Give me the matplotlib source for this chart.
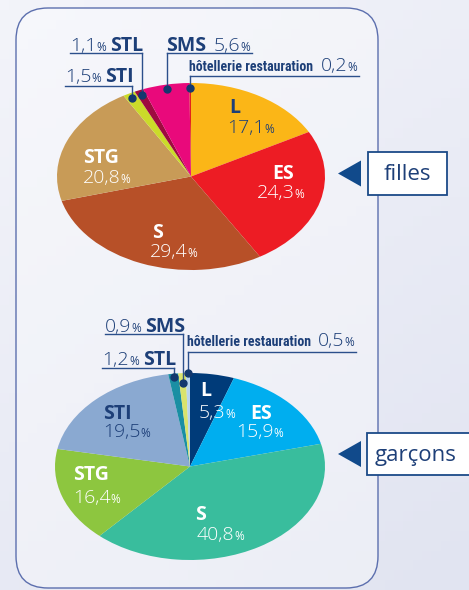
import matplotlib
matplotlib.use("Agg")

import matplotlib.pyplot as plt
import numpy as np
from matplotlib import font_manager
from matplotlib.colors import LinearSegmentedColormap
from matplotlib.patches import FancyBboxPatch, Rectangle, Polygon

plt.rcParams["font.family"] = ["Open Sans", "DejaVu Sans"]

# --- données ---
categories = ["L", "ES", "S", "STG", "STI", "STL", "SMS", "hôtellerie restauration"]
filles = [17.1, 24.3, 29.4, 20.8, 1.5, 1.1, 5.6, 0.2]
garcons = [5.3, 15.9, 40.8, 16.4, 19.5, 1.2, 0.9, 0.5]

colors_filles = ["#fbb617", "#ed1c24", "#b75028", "#c89b57", "#cbdb2a", "#9e0b3f", "#e9097b", "#e2231a"]
colors_garcons = ["#003b79", "#00aeef", "#39bd9d", "#8dc63f", "#8aa9d1", "#1a8fa3", "#d9e36c", "#b9d5ee"]

NAVY = "#1d3f78"
LINE = "#2b4f8b"

names = {f.name for f in font_manager.fontManager.ttflist}
NARROW = next((n for n in ["Roboto Condensed", "Liberation Sans Narrow", "Open Sans Condensed"]
               if n in names), "Roboto")

W, H = 469, 590
fig = plt.figure(figsize=(W / 100, H / 100), dpi=100)


def pixel_axes(z):
    a = fig.add_axes([0, 0, 1, 1], zorder=z)
    a.set_xlim(0, W)
    a.set_ylim(H, 0)
    a.axis("off")
    a.patch.set_alpha(0)
    return a


# fond (dessous) et calque des textes (dessus)
bg = pixel_axes(0)
ax = pixel_axes(5)

cmap = LinearSegmentedColormap.from_list("bg", ["#f3f4fa", "#e1e4f1"])
yy, xx = np.mgrid[0:1:60j, 0:1:50j]
bg.imshow(0.65 * yy + 0.35 * xx, cmap=cmap, extent=(0, W, H, 0), aspect="auto", zorder=0)
bg.add_patch(FancyBboxPatch((16, 8), 362, 580, boxstyle="round,pad=0,rounding_size=32",
                            fc="white", alpha=0.35, ec="none", zorder=1))
bg.add_patch(FancyBboxPatch((16, 8), 362, 580, boxstyle="round,pad=0,rounding_size=32",
                            fc="none", ec="#5c6fae", lw=1.0, zorder=2))

renderer = fig.canvas.get_renderer()


def fmt(v):
    return f"{v:.1f}".replace(".", ",")


def rich(x, y, parts, ha="left", zorder=6, kern=0.0):
    arts = [ax.text(0, y, s, va="baseline", zorder=zorder, **kw) for s, kw in parts]
    widths = [a.get_window_extent(renderer).width - kern for a in arts]
    total = sum(widths)
    x0 = x if ha == "left" else x - total
    start = x0
    for a, w in zip(arts, widths):
        a.set_x(x0)
        x0 += w
    return start, x0


def pie(values, colors, bbox):
    x0, y0, x1, y1 = bbox
    pax = fig.add_axes([x0 / W, 1 - y1 / H, (x1 - x0) / W, (y1 - y0) / H], zorder=2)
    pax.pie(values, colors=colors, startangle=90, counterclock=False, radius=1,
            wedgeprops=dict(linewidth=0))
    pax.set_aspect("auto")
    pax.set_xlim(-1, 1)
    pax.set_ylim(-1, 1)
    pax.axis("off")
    return pax


def wedge_point(pax, values, i, r):
    tot = sum(values)
    mid = (sum(values[:i]) + values[i] / 2) / tot
    ang = np.deg2rad(90 - 360 * mid)
    p = pax.transData.transform((r * np.cos(ang), r * np.sin(ang)))
    return ax.transData.inverted().transform(p)


def inside(values, i, name_xy, num_xy, color):
    rich(*name_xy, [(categories[i], dict(fontsize=14, fontweight="bold", color=color))])
    rich(*num_xy, [(fmt(values[i]), dict(fontsize=14, fontweight=300, color=color)),
                   ("%", dict(fontsize=8.5, color=color))], kern=0.5)


def outside(pax, values, i, base_y, line_y, side, r=0.95, bold_first=False, narrow=False):
    dx, dy = wedge_point(pax, values, i, r)
    name = categories[i]
    if narrow:
        name_kw = dict(fontsize=10, fontweight="bold", color=NAVY, family=[NARROW, "DejaVu Sans"])
    else:
        name_kw = dict(fontsize=14, fontweight="bold", color=NAVY)
    num = [(fmt(values[i]), dict(fontsize=14, fontweight=300, color=NAVY)),
           ("%", dict(fontsize=8.5, color=NAVY))]
    if bold_first:
        parts = [(name, name_kw), ("  ", dict(fontsize=10))] + num
    else:
        parts = num + [(" ", dict(fontsize=11)), (name, name_kw)]
    if side == "left":
        s, e = rich(dx + 2, base_y, parts, ha="right")
        ax.plot([s, dx], [line_y, line_y], color=LINE, lw=1.0, zorder=5)
    else:
        s, e = rich(dx - 1, base_y, parts, ha="left")
        ax.plot([dx, e + 2], [line_y, line_y], color=LINE, lw=1.0, zorder=5)
    ax.plot([dx, dx], [line_y, dy], color=LINE, lw=1.0, zorder=5)
    ax.plot(dx, dy, "o", ms=5, color="#13386e", zorder=7)


# --- filles ---
pf = pie(filles, colors_filles, (57, 83, 325, 270))
inside(filles, 0, (229, 113), (227, 133), NAVY)
inside(filles, 1, (272, 179), (257, 198), "white")
inside(filles, 2, (152, 238), (150, 257), "white")
inside(filles, 3, (83, 163), (83, 183), "white")
outside(pf, filles, 5, 51, 53, "left")
outside(pf, filles, 4, 82, 86, "left")
outside(pf, filles, 6, 51, 53, "right", bold_first=True)
outside(pf, filles, 7, 71, 76, "right", bold_first=True, narrow=True)

# --- garçons ---
pg = pie(garcons, colors_garcons, (55, 373, 325, 560))
inside(garcons, 0, (200, 396), (199, 418), "white")
inside(garcons, 1, (250, 419), (236, 437), "white")
inside(garcons, 4, (103, 419), (103, 437), NAVY)
inside(garcons, 3, (73, 480), (73, 503), "white")
inside(garcons, 2, (195, 520), (197, 540), "white")
outside(pg, garcons, 6, 332, 334, "left", r=0.89)
outside(pg, garcons, 7, 346, 352, "right", r=1.0, bold_first=True, narrow=True)
outside(pg, garcons, 5, 365, 368, "left", r=0.96)

# --- étiquettes filles / garçons ---
for label, (bx, by, bw, bh) in [("filles", (368, 152, 79, 43)), ("garçons", (367, 433, 110, 42))]:
    ax.add_patch(Rectangle((bx, by), bw, bh, fc="white", ec="#1b4a88", lw=1.3, zorder=6))
    ax.add_patch(Polygon([(338, by + bh / 2), (361, by + bh / 2 - 13), (361, by + bh / 2 + 13)],
                         closed=True, fc="#114a8b", ec="none", zorder=6))
    ax.text(bx + 8 if label == "garçons" else bx + bw / 2, by + bh / 2 + 1, label,
            ha="left" if label == "garçons" else "center", va="center",
            fontsize=16, color=NAVY, zorder=7)

fig.savefig("out.png", dpi=100)
